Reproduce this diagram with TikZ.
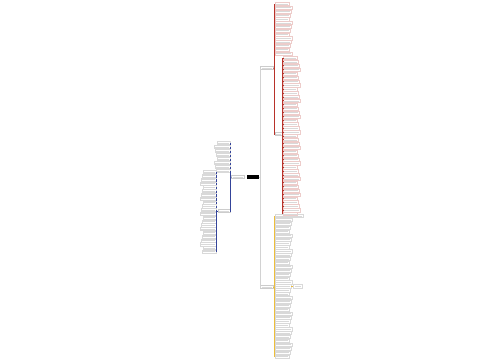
\documentclass[tikz,border=0pt]{standalone}
\usetikzlibrary{positioning}
\definecolor{mmred}{HTML}{B8322A}
\definecolor{mmblue}{HTML}{34449A}
\definecolor{mmyellow}{HTML}{EDBE3A}

\begin{document}
\begin{tikzpicture}[x=0.02cm, y=-0.02cm,
  textbar/.style={path picture={\draw[#1, line width=0.45pt]
      ([xshift=0.7pt]path picture bounding box.west) --
      ([xshift=-0.7pt]path picture bounding box.east);}},
  leafbox/.style={draw=#1, line width=0.2pt, inner sep=0pt,
      minimum height=0.066cm, textbar=gray!30},
  rleaf/.style={leafbox=mmred!25},
  bleaf/.style={leafbox=gray!30},
  yleaf/.style={leafbox=gray!30},
  mainbox/.style={leafbox=gray!40, minimum width=0.26cm},
  rootbox/.style={fill=black, inner sep=0pt, minimum width=0.24cm,
      minimum height=0.07cm},
  link/.style={draw=gray!35, line width=0.3pt},
  rline/.style={draw=mmred, line width=0.5pt},
  bline/.style={draw=mmblue, line width=0.5pt},
  yline/.style={draw=mmyellow, line width=0.5pt}]
\useasboundingbox (0,0) rectangle (500,360);

% root and main branches
\node[rootbox] (root) at (253,177) {};
\node[mainbox, left=0.04cm of root] (bmain) {};
\node[mainbox] (rmain) at (267,68) {};
\node[mainbox] (ymain) at (267,287) {};

\draw[link] (root.east) -- ++(0.8,0) |- (rmain.west);
\draw[link] (root.east) -- ++(0.8,0) |- (ymain.west);

% red branch
\foreach \i in {0,...,13} {
  \node[rleaf, anchor=west, minimum width={0.02cm*(14+mod(\i*7,4))}] (ra\i) at (275,4+\i*3.8) {};
  \draw[rline] (rmain.east) -- ++(0.8,0) |- (ra\i.west);
}
\node[mainbox, anchor=west, minimum width=0.14cm] (rsub) at (275,134) {};
\draw[rline] (rmain.east) -- ++(0.8,0) |- (rsub.west);
\foreach \i in {0,...,40} {
  \node[rleaf, anchor=west, minimum width={0.02cm*(14+mod(\i*5,4))}] (rb\i) at (283,58+\i*3.9) {};
  \draw[rline] (rsub.east) -- ++(0.5,0) |- (rb\i.west);
}

% blue branch
\node[mainbox, minimum width=0.24cm] (bsub) at (224,211) {};
\draw[bline] (bmain.west) -- ++(-1,0) |- (bsub.east);
\foreach \i in {0,...,7} {
  \node[bleaf, anchor=east, minimum width={0.02cm*(13+mod(\i*7,4))}] (bu\i) at (230,143+\i*4) {};
  \draw[bline] (bmain.west) -- ++(-1,0) |- (bu\i.east);
}
\foreach \i in {0,...,21} {
  \node[bleaf, anchor=east, minimum width={0.02cm*(13+mod(\i*5,4))}] (bl\i) at (216,172+\i*3.8) {};
  \draw[bline] (bsub.west) -- ++(-1,0) |- (bl\i.east);
}

% yellow branch
\node[yleaf, anchor=west, minimum width=0.56cm] (y0) at (275,216) {};
\draw[yline] (ymain.east) -- ++(0.8,0) |- (y0.west);
\foreach \i in {1,...,36} {
  \node[yleaf, anchor=west, minimum width={0.02cm*(14+mod(\i*7,4))}] (y\i) at (275,216+\i*3.9) {};
  \draw[yline] (ymain.east) -- ++(0.8,0) |- (y\i.west);
}
\node[yleaf, right=0.04cm of y18, minimum width=0.18cm] (y18a) {};
\draw[yline] (y18.east) -- (y18a.west);
\end{tikzpicture}
\end{document}
